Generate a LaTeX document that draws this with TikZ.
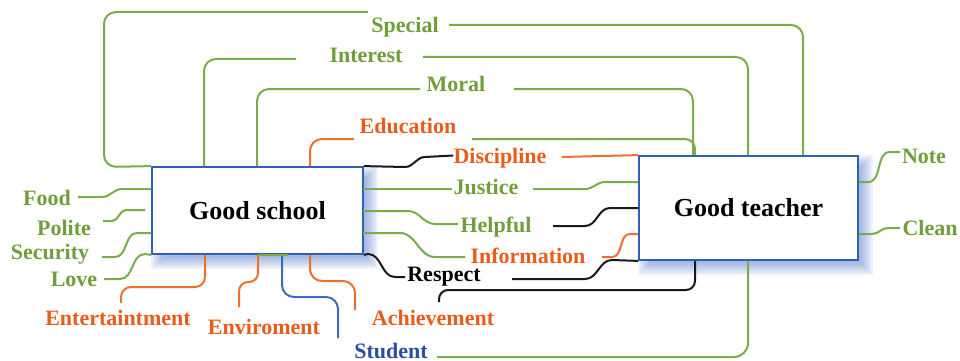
\documentclass[tikz,border=0pt]{standalone}
\usepackage{fontspec}
\setmainfont{Liberation Serif}
\usetikzlibrary{calc,backgrounds}
\definecolor{lgreen}{RGB}{122,172,74}
\definecolor{tgreen}{RGB}{112,158,58}
\definecolor{lorange}{RGB}{237,112,44}
\definecolor{torange}{RGB}{234,92,28}
\definecolor{boxblue}{RGB}{48,96,182}
\definecolor{tblue}{RGB}{40,78,160}
\definecolor{lblue}{RGB}{60,108,192}
\definecolor{glowblue}{RGB}{70,110,200}
\definecolor{lblack}{RGB}{25,25,25}
\tikzset{
 lbl/.style={inner sep=0pt, anchor=base, text height=15pt, text depth=0pt, font=\fontsize{22}{26}\selectfont\bfseries},
 box/.style={draw=boxblue, line width=1.8pt, fill=white, inner sep=0pt, font=\fontsize{26}{30}\selectfont\bfseries},
 gl/.style={draw=lgreen, line width=2pt},
 ol/.style={draw=lorange, line width=2pt},
 bl/.style={draw=lblack, line width=2pt},
 ul/.style={draw=lblue, line width=2pt},
}
\begin{document}
\begin{tikzpicture}[x=1pt,y=-1pt]
\useasboundingbox (0,0) rectangle (960,361);
% boxes
\node[box, minimum width=211pt, minimum height=87pt] (school) at (257.5,210.5) {Good school};
\node[box, minimum width=219pt, minimum height=104pt] (teacher) at (748.5,208) {Good teacher};
\begin{scope}[on background layer]
\foreach \r in {2,4,...,14} {
 \fill[glowblue, opacity=0.09] ($(school.north west)+(14-\r,14-\r)$) rectangle ($(school.south east)+(\r,\r)$);
 \fill[glowblue, opacity=0.09] ($(teacher.north west)+(14-\r,14-\r)$) rectangle ($(teacher.south east)+(\r,\r)$);
}
\end{scope}
% labels
\node[lbl, text=tgreen] (special) at (405,33) {Special};
\node[lbl, text=tgreen] (interest) at (366,63) {Interest};
\node[lbl, text=tgreen] (moral) at (456,91) {Moral};
\node[lbl, text=torange] (education) at (408,133) {Education};
\node[lbl, text=torange] (discipline) at (500,163) {Discipline};
\node[lbl, text=tgreen] (justice) at (486,194) {Justice};
\node[lbl, text=tgreen] (helpful) at (496,232) {Helpful};
\node[lbl, text=torange] (information) at (528,263) {Information};
\node[lbl, text=black] (respect) at (444,281) {Respect};
\node[lbl, text=torange] (achievement) at (433,325) {Achievement};
\node[lbl, text=torange] (enviroment) at (264,334) {Enviroment};
\node[lbl, text=torange] (entertaintment) at (118,325) {Entertaintment};
\node[lbl, text=tblue] (student) at (391,358) {Student};
\node[lbl, text=tgreen] (food) at (47,205) {Food};
\node[lbl, text=tgreen] (polite) at (64,235) {Polite};
\node[lbl, text=tgreen] (security) at (50,259) {Security};
\node[lbl, text=tgreen] (love) at (74,286) {Love};
\node[lbl, text=tgreen] (note) at (924,163) {Note};
\node[lbl, text=tgreen] (clean) at (930,235) {Clean};
% top connectors
\draw[gl, rounded corners=12pt] (368,12) -- (104,12) -- (104,167) -- (school.north west);
\draw[gl, rounded corners=12pt] (449,25) -- (803,25) -- (803,0 |- teacher.north);
\draw[gl, rounded corners=12pt] (296,59) -- (204,59) -- (204,0 |- school.north);
\draw[gl, rounded corners=12pt] (423,57) -- (748,57) -- (748,0 |- teacher.north);
\draw[gl, rounded corners=12pt] (420,89) -- (257,89) -- (257,0 |- school.north);
\draw[gl, rounded corners=12pt] (514,89) -- (693,89) -- (693,0 |- teacher.north);
\draw[ol, rounded corners=12pt] (354,139) -- (310,139) -- (310,0 |- school.north);
\draw[gl, rounded corners=10pt] (472,139) -- (695,139) -- (695,0 |- teacher.north);
% middle connectors
\draw[bl] (school.north east) -- (405,167) to[out=0,in=180] (425,157) -- (discipline.west);
\draw[ol] (562,157) -- (teacher.north west);
\draw[gl] (363,189) -- (452,189);
\draw[gl] (533,189) -- (585,189) to[out=0,in=180] (605,182) -- (teacher.west |- 0,182);
\draw[gl] (363,211) -- (408,211) to[out=0,in=180] (435,224) -- (458,224);
\draw[bl] (553,226) -- (585,226) to[out=0,in=180] (610,208) -- (teacher.west |- 0,208);
\draw[gl] (363,233) -- (400,233) to[out=0,in=180] (435,257) -- (465,257);
\draw[ol] (602,257) -- (612,257) to[out=0,in=180] (630,234) -- (teacher.west |- 0,234);
\draw[bl] (school.south east) -- (368,254) to[out=0,in=180] (395,277) -- (405,277);
\draw[bl] (512,279) -- (585,279) to[out=0,in=180] (612,260) -- (teacher.south west);
% bottom connectors
\draw[bl, rounded corners=9pt] (695,0 |- teacher.south) -- (695,290) -- (439,290) -- (439,302);
\draw[ul, rounded corners=12pt] (282,0 |- school.south) -- (282,297) -- (338,297) -- (338,338);
\draw[gl, rounded corners=14pt] (437,357) -- (748,357) -- (748,0 |- teacher.south);
\draw[ol, rounded corners=12pt] (310,0 |- school.south) -- (310,281) -- (355,281) -- (355,310);
\draw[ol, rounded corners=9pt] (258,0 |- school.south) -- (258,282) -- (239,282) -- (239,307);
\draw[ol, rounded corners=10pt] (205,0 |- school.south) -- (205,287) -- (121,287) -- (121,303);
\draw[gl] (258,0 |- school.south) -- (288,0 |- school.south);
% left connectors
\draw[gl] (78,197) -- (102,197) to[out=0,in=180] (122,189) -- (school.west |- 0,189);
\draw[gl] (103,221) -- (112,221) to[out=0,in=180] (126,210) -- (145,210);
\draw[gl] (102,257) -- (115,257) to[out=0,in=180] (137,233) -- (school.west |- 0,233);
\draw[gl] (104,279) -- (120,279) to[out=0,in=180] (145,254) -- (school.south west);
% right connectors
\draw[gl] (teacher.east |- 0,182) -- (868,182) to[out=0,in=180] (890,152) -- (900,152);
\draw[gl] (teacher.east |- 0,234) -- (872,234) to[out=0,in=180] (888,228) -- (900,228);
\end{tikzpicture}
\end{document}
